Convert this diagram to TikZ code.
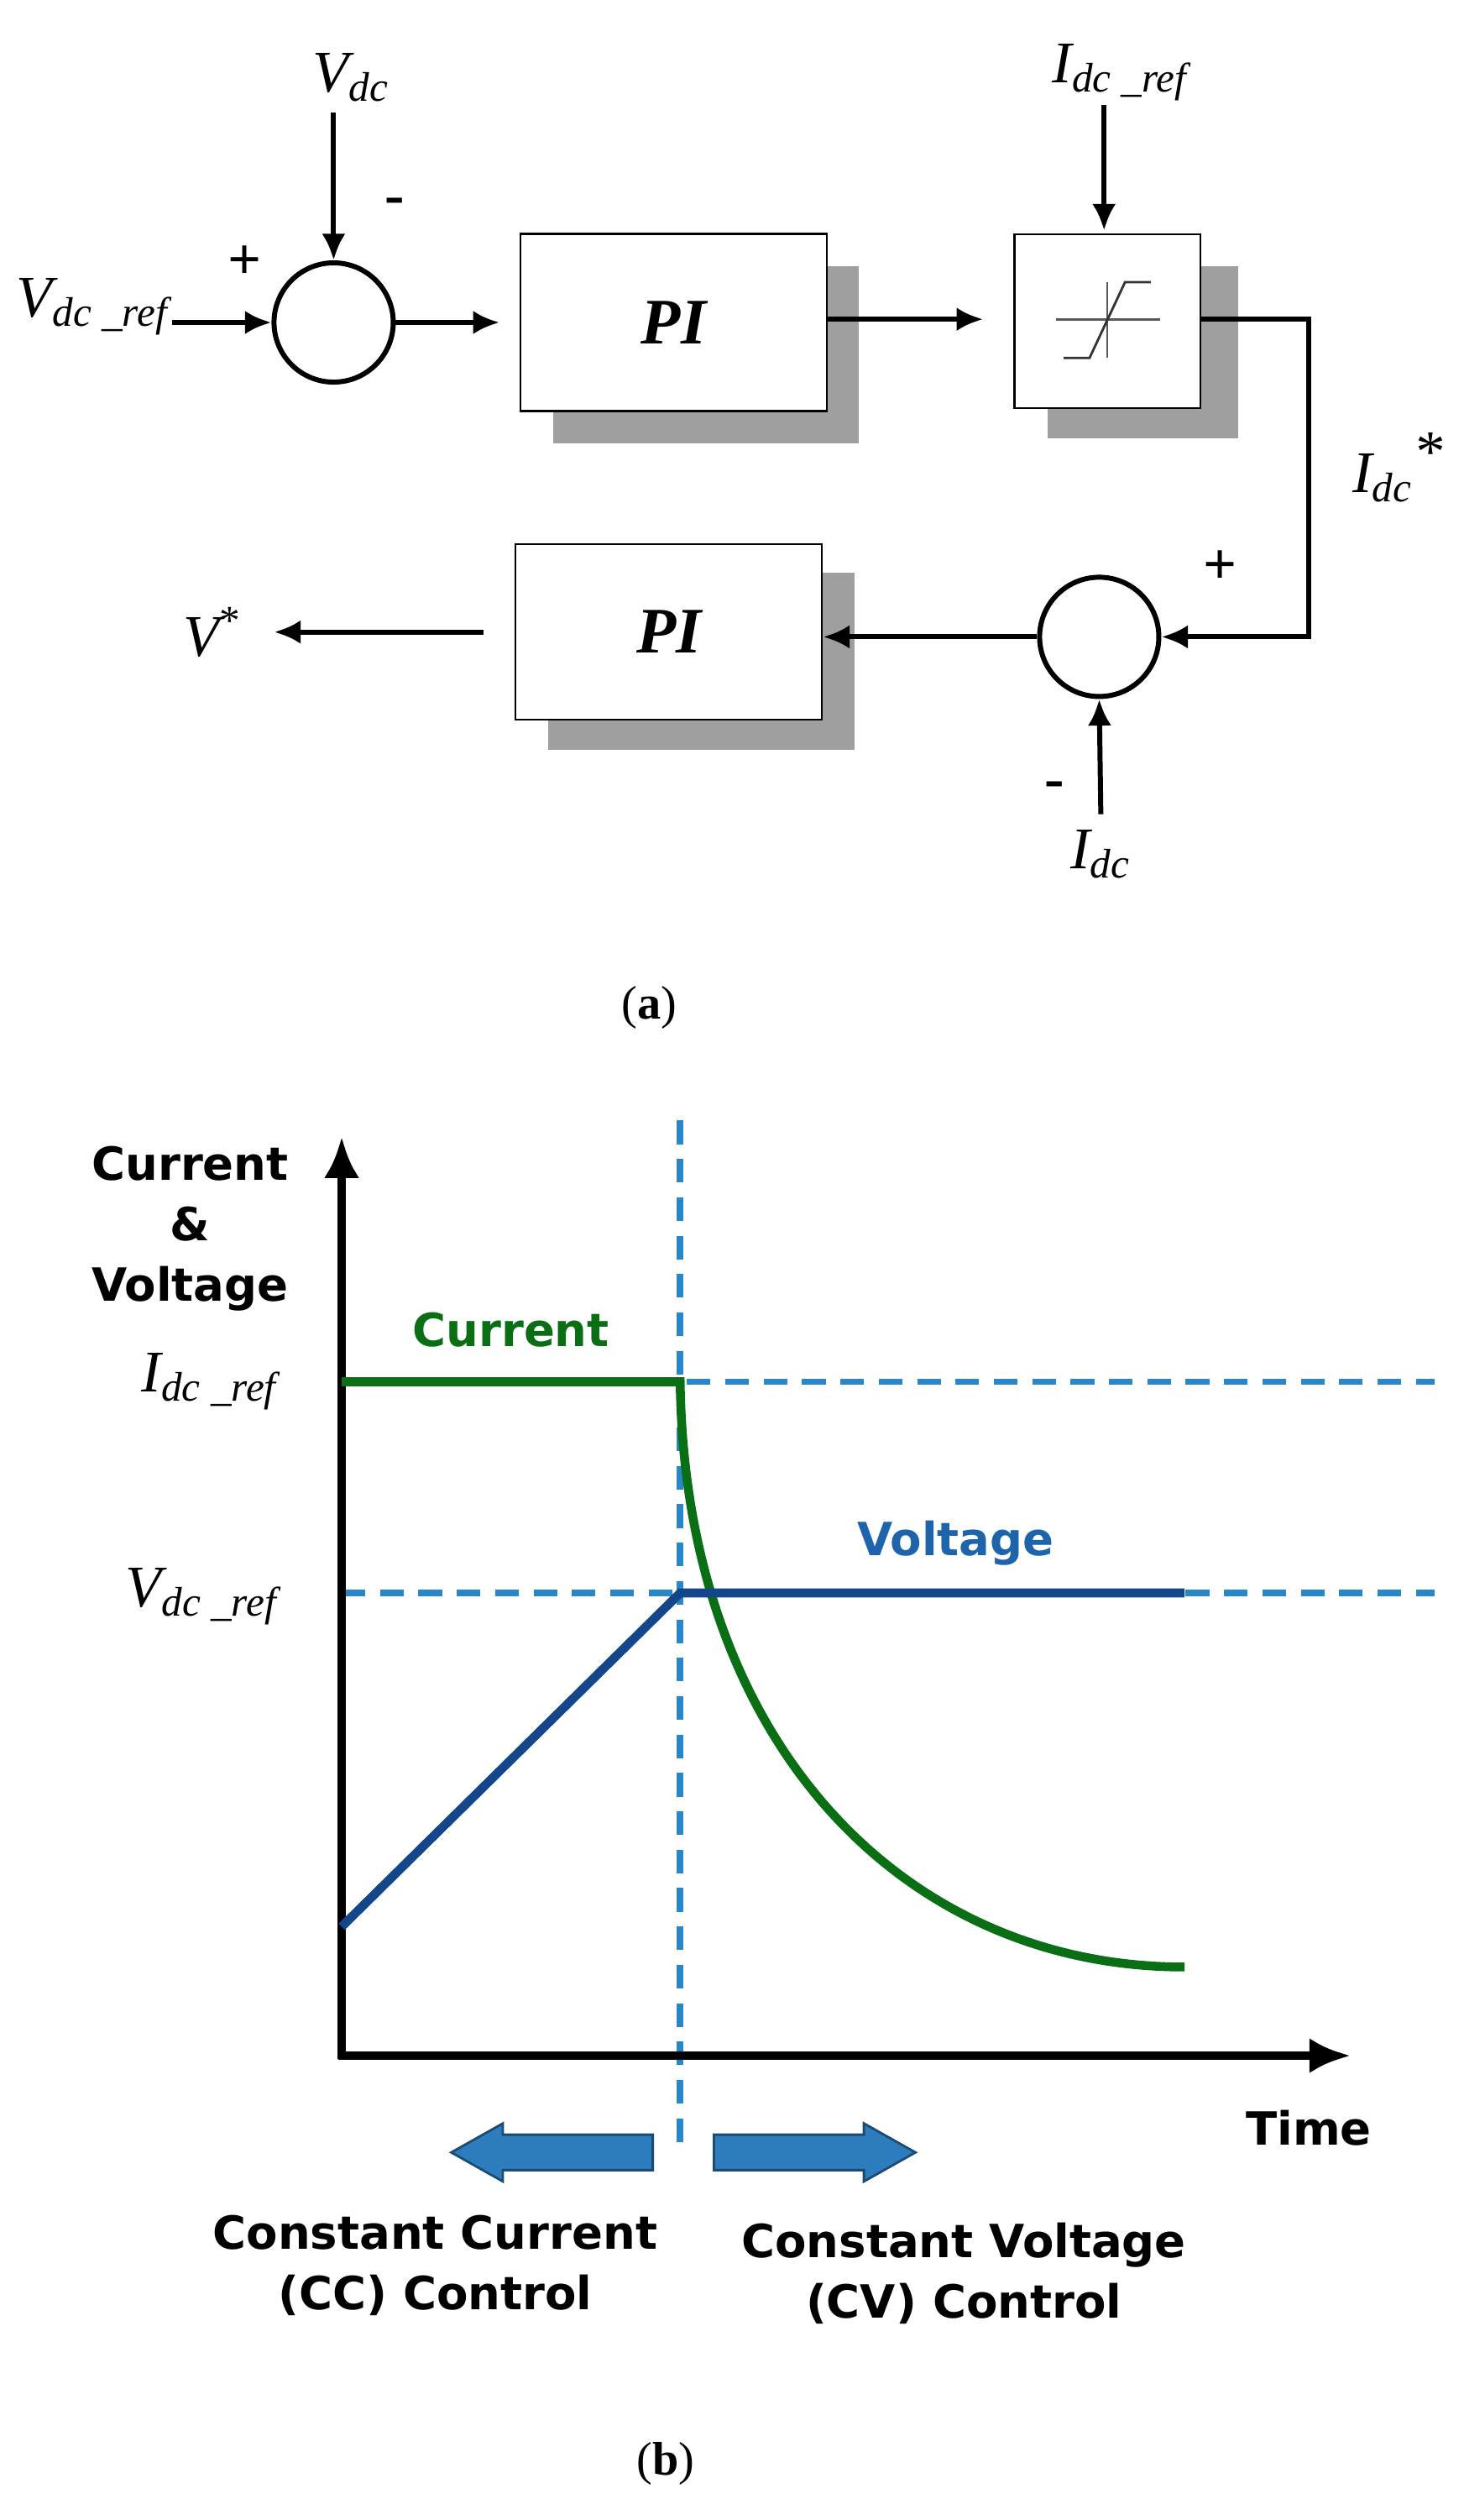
\documentclass[tikz,border=0pt]{standalone}
\usepackage{fontspec}
\setmainfont{Liberation Serif}
\newfontfamily\sansb{DejaVu Sans}
\usetikzlibrary{arrows.meta}
\definecolor{dashblue}{RGB}{40,135,200}
\definecolor{curgreen}{RGB}{10,110,20}
\definecolor{voltblue}{RGB}{20,70,140}
\definecolor{txtblue}{RGB}{30,100,170}
\definecolor{blockarrow}{RGB}{45,125,190}
\newcommand{\lbl}[2]{{\itshape #1}\textsubscript{\itshape #2}}
\begin{document}
\begin{tikzpicture}[x=0.0192cm,y=-0.0192cm,>={Latex[length=9pt,width=8pt]},
  sig/.style={line width=1.7pt},
  sum/.style={circle,draw,line width=1.7pt,minimum size=1.42cm,inner sep=0pt},
  blk/.style={draw,fill=white,line width=0.6pt,inner sep=0pt},
  shadow/.style={fill=gray!75,draw=none},
  lab/.style={font=\fontsize{20}{22}\selectfont},
  sgn/.style={font=\fontsize{20}{22}\selectfont\bfseries},
  sans/.style={font=\fontsize{15.5}{20.5}\selectfont\sansb\bfseries,align=center},
  dsh/.style={dashblue,line width=2.2pt,dash pattern=on 8pt off 5pt},
  axis/.style={line width=2.8pt,-{Latex[length=14pt,width=12pt]}},
  barrow/.style={fill=blockarrow,draw=blockarrow!60!black,line width=0.8pt}]
\useasboundingbox (0,0) rectangle (908,1563);
% ---------- (a) ----------
\fill[shadow] (343,165) rectangle (533,275);
\node[blk,minimum width=3.65cm,minimum height=2.11cm] (pi1) at (418,200) {\fontsize{22}{24}\selectfont\bfseries\itshape PI};
\fill[shadow] (650,165) rectangle (768,272);
\node[blk,minimum width=2.21cm,minimum height=2.07cm] (sat) at (687,199) {};
\draw[gray!70!black,line width=0.8pt] (655,198) -- (720,198) (687,175) -- (687,222);
\draw[gray!40!black,line width=0.8pt] (660,222) -- (676,222) -- (698,175) -- (714,175);
\fill[shadow] (340,355) rectangle (530,465);
\node[blk,minimum width=3.65cm,minimum height=2.09cm] (pi2) at (415,392) {\fontsize{22}{24}\selectfont\bfseries\itshape PI};
\node[sum] (s1) at (207,200) {};
\node[sum] (s2) at (682,395) {};
\node[lab] (vdc) at (218,48) {\lbl{V}{dc}};
\node[lab,anchor=west,inner sep=1pt] (vref) at (8,190) {\lbl{V}{dc \_ref}};
\node[lab] (iref) at (695,45) {\lbl{I}{dc \_ref}};
\node[lab] (istar) at (858,290) {\lbl{I}{dc}\rlap{\raisebox{7pt}{\itshape *}}};
\node[lab] (idc) at (683,530) {\lbl{I}{dc}};
\node[lab] (vstar) at (132,392) {{\itshape V}\textsuperscript{*}};
\node[sgn] at (245,128) {-};
\node[sgn] at (152,163) {+};
\node[sgn] at (757,352) {+};
\node[sgn] at (654,490) {-};
\coordinate (c1) at (812,198);
\coordinate (c2) at (812,395);
\draw[sig,->] (207,70) -- (s1.north);
\draw[sig,->] (vref.east |- s1) -- (s1.west);
\draw[sig,->] (s1.east) -- (310,200);
\draw[sig,->] (pi1.east |- 0,198) -- (610,198);
\draw[sig,->] (685,65) -- (685,143);
\draw[sig,->] (sat.east |- c1) -- (c1) -- (c2) -- (s2.east);
\draw[sig,->] (683,505) -- (s2.south);
\draw[sig,->] (s2.west) -- (pi2.east |- s2);
\draw[sig,->] (300,392) -- (170,392);
\node[font=\fontsize{16}{18}\selectfont] at (403,625) {(\textbf{a})};
% ---------- (b) ----------
\draw[dsh] (212,857) -- (890,857);
\draw[dsh] (212,988) -- (890,988);
\draw[dsh] (422,695) -- (422,1330);
\draw[axis] (212,1277) -- (212,705);
\draw[axis] (210,1275) -- (838,1275);
\draw[curgreen,line width=3pt] (212,857) -- (422,857) .. controls (425,1080) and (560,1220) .. (735,1220);
\draw[voltblue,line width=3pt] (212,1195) -- (422,988) -- (735,988);
\node[sans] at (118,762) {Current\\\&\\Voltage};
\node[sans,curgreen] at (317,825) {Current};
\node[sans,txtblue] at (593,957) {Voltage};
\node[sans] at (812,1320) {Time};
\node[lab] at (130,857) {\lbl{I}{dc \_ref}};
\node[lab] at (125,990) {\lbl{V}{dc \_ref}};
\draw[barrow] (280,1335) -- (312,1317) -- (312,1324) -- (405,1324) -- (405,1346) -- (312,1346) -- (312,1353) -- cycle;
\draw[barrow] (568,1335) -- (536,1317) -- (536,1324) -- (443,1324) -- (443,1346) -- (536,1346) -- (536,1353) -- cycle;
\node[sans] at (270,1405) {Constant Current\\(CC) Control};
\node[sans] at (598,1410) {Constant Voltage\\(CV) Control};
\node[font=\fontsize{16}{18}\selectfont] at (413,1528) {(\textbf{b})};
\end{tikzpicture}
\end{document}
